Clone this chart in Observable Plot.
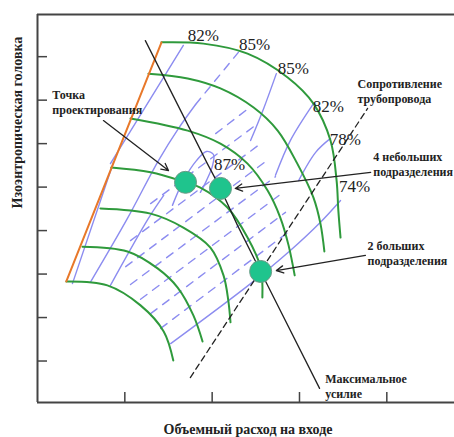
<!DOCTYPE html>
<html>
<head>
<meta charset="utf-8">
<script src="https://cdn.jsdelivr.net/npm/d3@7"></script>
<script src="https://cdn.jsdelivr.net/npm/@observablehq/plot@0.6"></script>
<style>
  body { margin: 0; background: #fff; }
  #chart { width: 454px; height: 437px; }
</style>
</head>
<body>
<div id="chart"></div>
<script>
// Compressor performance map: volumetric inlet flow (x) vs isentropic head (y), arbitrary units.
const xTicks = [20, 40, 60, 80];
const yTicks = [10, 20, 30, 40, 50, 60, 70, 80];

// Surge line
const surgeLine = [[28.4, 83.3], [6.6, 28.3]];

// Constant-speed curves, from the highest speed down
const speedLines = [
  [[28.4, 83.3], [38.0, 83.0], [48.1, 80.7], [57.3, 75.2], [63.2, 69.2], [67.1, 60.7], [68.5, 51.5], [68.9, 44.6], [69.4, 38.4]],
  [[25.4, 76.1], [34.4, 75.0], [41.9, 72.7], [49.5, 68.3], [55.0, 63.0], [59.5, 55.4], [63.2, 47.6], [64.8, 41.6], [65.7, 35.2]],
  [[21.3, 65.8], [34.4, 63.0], [41.9, 60.0], [48.1, 55.4], [52.7, 49.2], [55.6, 43.0], [57.5, 36.6], [58.9, 29.7]],
  [[16.9, 54.5], [25.9, 53.4], [33.9, 51.1], [37.3, 49.9], [43.5, 45.3], [48.1, 38.4], [51.1, 31.5], [51.5, 24.6]],
  [[14.4, 45.1], [25.9, 43.9], [33.4, 40.7], [39.6, 36.1], [42.6, 29.7], [43.7, 23.9], [44.2, 18.9]],
  [[10.3, 36.3], [20.6, 35.2], [27.5, 31.3], [32.1, 26.9], [35.7, 20.5], [37.8, 14.5]],
  [[6.6, 28.3], [16.0, 27.4], [23.6, 22.8], [28.9, 16.8], [31.1, 10.1]]
];

// Efficiency contours drawn as continuous lines
const solidContours = [
  [[8.0, 27.8], [17.4, 55.7]],
  [[16.7, 55.4], [33.4, 82.6]],
  [[12.1, 28.1], [20.6, 42.8], [27.7, 56.1], [32.3, 63.5], [36.2, 69.0]],
  [[16.7, 27.4], [25.4, 42.8], [28.9, 48.1]],
  [[30.9, 45.8], [33.4, 51.5], [36.4, 56.1], [38.7, 58.2], [40.3, 57.5], [40.1, 55.0], [38.7, 51.5], [37.3, 48.8]],
  [[48.8, 60.7], [51.8, 68.1], [54.7, 76.1]],
  [[54.5, 52.7], [57.9, 60.7], [63.2, 69.2]],
  [[59.8, 51.5], [63.7, 58.0], [67.1, 61.2]],
  [[30.5, 14.0], [48.8, 27.8], [57.9, 35.4], [64.8, 41.9], [69.4, 46.9]]
];

// Efficiency contours drawn as broken lines
const dashedContours = [
  [[36.2, 69.0], [46.0, 81.0]],
  [[28.2, 17.5], [57.9, 40.0]],
  [[25.9, 20.9], [56.8, 44.2]],
  [[23.6, 24.2], [55.6, 48.3]],
  [[21.3, 27.6], [54.5, 52.4]],
  [[20.2, 31.7], [52.9, 56.4]],
  [[21.3, 37.7], [51.5, 60.3]],
  [[25.9, 46.2], [49.9, 64.2]],
  [[40.8, 62.3], [48.3, 68.1]]
];

// Maximum-effort (choke) line and system resistance curve
const maxEffortLine = [[24.7, 83.7], [38.9, 55.4], [41.9, 49.7], [45.8, 41.2], [51.1, 30.6], [64.6, 3.7]];
const pipelineCurve = [[35.0, 6.2], [75.6, 68.1]];

// Operating points: design point, 4 small divisions, 2 large divisions
const pointX = [33.9, 41.9, 51.1];
const pointY = [51.1, 49.7, 30.6];

// Efficiency labels
const effLabels = ["82%", "85%", "85%", "82%", "78%", "74%", "87%"];
const effX = [38.0, 49.7, 58.6, 66.6, 70.5, 72.6, 44.0];
const effY = [84.9, 82.8, 77.3, 68.5, 61.0, 50.1, 55.2];

// Callouts
const noteText = ["Точка\nпроектирования", "Сопротивление\nтрубопровода", "4 небольших\nподразделения", "2 больших\nподразделения", "Максимальное\nусилие"];
const noteX = [3.4, 73.3, 76.9, 75.6, 65.9];
const noteY = [69.7, 72.2, 55.4, 35.0, 4.4];

// Arrows from callouts to points
const arrowFrom = [[15.1, 65.3], [76.3, 53.4], [75.1, 34.3]];
const arrowTo = [[30.0, 53.8], [45.3, 49.7], [54.7, 30.8]];

const xLabel = "Объемный расход на входе";
const yLabel = "Изоэнтропическая головка";

const xMin = 0, xMax = 95.5, yMin = 0.46, yMax = 89.7;

const toRows = (lines) => lines.flatMap((pts, i) => pts.map(([x, y]) => ({x, y, id: i})));
const pairs = (arr) => arr.map(([x, y]) => ({x, y}));

const serif = "'Liberation Serif', 'DejaVu Serif', serif";
const ink = "#222";
const blue = "#8c8cf0";
const green = "#2f9a3c";

const chart = Plot.plot({
  width: 454,
  height: 437,
  marginLeft: 37,
  marginRight: 0,
  marginTop: 14,
  marginBottom: 35,
  style: {fontFamily: serif, background: "#fff"},
  x: {domain: [xMin, xMax], axis: null},
  y: {domain: [yMin, yMax], axis: null},
  marks: [
    // efficiency contours
    Plot.line(toRows(solidContours), {x: "x", y: "y", z: "id", stroke: blue, strokeWidth: 1.4, curve: "catmull-rom"}),
    Plot.line(toRows(dashedContours), {x: "x", y: "y", z: "id", stroke: blue, strokeWidth: 1.4, strokeDasharray: "8,7"}),
    // speed curves and surge line
    Plot.line(toRows(speedLines), {x: "x", y: "y", z: "id", stroke: green, strokeWidth: 2, curve: "catmull-rom"}),
    Plot.line(pairs(surgeLine), {x: "x", y: "y", stroke: "#e8782a", strokeWidth: 2}),
    // choke and system resistance
    Plot.line(pairs(maxEffortLine), {x: "x", y: "y", stroke: ink, strokeWidth: 1.3}),
    Plot.line(pairs(pipelineCurve), {x: "x", y: "y", stroke: ink, strokeWidth: 1.3, strokeDasharray: "6,4"}),
    // operating points
    Plot.dot(pointX.map((x, i) => ({x, y: pointY[i]})), {x: "x", y: "y", r: 11, fill: "#1fc48d", stroke: "#6d9a86", strokeWidth: 1}),
    // callout arrows
    Plot.arrow(arrowFrom.map((a, i) => ({x1: a[0], y1: a[1], x2: arrowTo[i][0], y2: arrowTo[i][1]})),
      {x1: "x1", y1: "y1", x2: "x2", y2: "y2", stroke: ink, strokeWidth: 1.3, headLength: 9, headAngle: 55}),
    // frame: left, bottom and top lines
    Plot.ruleX([xMin], {stroke: "#444", strokeWidth: 2}),
    Plot.ruleY([yMin, yMax], {stroke: "#444", strokeWidth: 2}),
    // inward ticks
    Plot.ruleX(xTicks, {x: d => d, y1: yMin, y2: yMin, insetTop: -10, stroke: "#444", strokeWidth: 1.5}),
    Plot.ruleY(yTicks, {y: d => d, x1: xMin, x2: xMin, insetRight: -10, stroke: "#444", strokeWidth: 1.5}),
    // labels
    Plot.text(effLabels.map((t, i) => ({t, x: effX[i], y: effY[i]})),
      {x: "x", y: "y", text: "t", fontSize: 17, fill: ink, fontFamily: serif}),
    Plot.text(noteText.map((t, i) => ({t, x: noteX[i], y: noteY[i]})),
      {x: "x", y: "y", text: "t", fontSize: 12, fontWeight: "bold", textAnchor: "start", lineHeight: 1.25, fill: ink, fontFamily: serif}),
    Plot.text([xLabel], {frameAnchor: "bottom", dy: 31, dx: 2, fontSize: 14, fontWeight: "bold", fill: ink, fontFamily: serif}),
    Plot.text([yLabel], {frameAnchor: "left", dx: -20, rotate: -90, fontSize: 14, fontWeight: "bold", fill: ink, fontFamily: serif})
  ]
});

document.getElementById("chart").appendChild(chart);
</script>
</body>
</html>
